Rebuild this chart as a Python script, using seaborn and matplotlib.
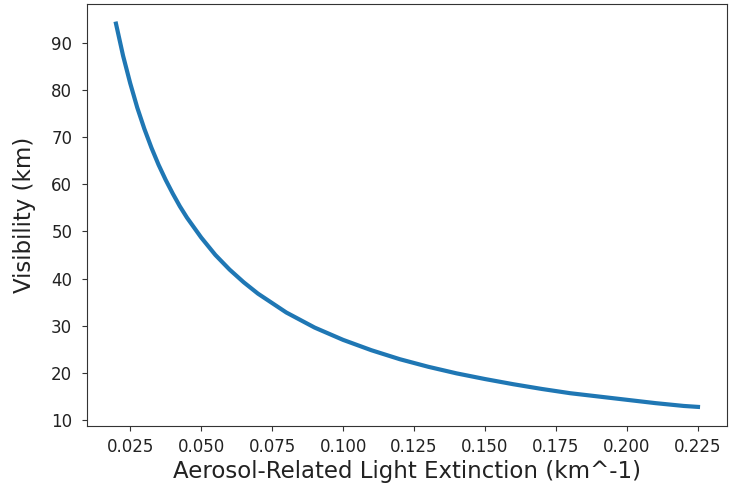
import matplotlib
matplotlib.use('Agg')
import matplotlib.pyplot as plt
import pandas as pd
import seaborn as sns

# values
extinction = [0.020, 0.0225, 0.025, 0.0275, 0.030, 0.0325, 0.035, 0.0375, 0.040, 0.0425,
              0.045, 0.050, 0.055, 0.060, 0.065, 0.070, 0.080, 0.090, 0.100, 0.110,
              0.120, 0.130, 0.140, 0.150, 0.160, 0.170, 0.180, 0.190, 0.200, 0.210,
              0.220, 0.225]
visibility = [94.0, 87.2, 81.4, 76.2, 71.7, 67.7, 64.1, 60.9, 58.0, 55.3,
              52.9, 48.7, 45.0, 41.9, 39.2, 36.8, 32.8, 29.6, 27.0, 24.8,
              22.9, 21.3, 19.9, 18.7, 17.6, 16.6, 15.7, 15.0, 14.3, 13.6,
              13.0, 12.8]

plt_df = pd.DataFrame({'ext': extinction, 'vis': visibility})

fig = plt.figure(figsize=(7.3, 4.96), dpi=100)
ax = fig.add_axes([0.119, 0.141, 0.877, 0.850])
sns.lineplot(x='ext', y='vis', data=plt_df, color='#1f77b4', linewidth=3, ax=ax)
ax.set_xticks([0.025, 0.05, 0.075, 0.1, 0.125, 0.15, 0.175, 0.2, 0.225])
ax.tick_params(labelsize=12, length=3.5, pad=7, color='#333333', labelcolor='#222222')
ax.tick_params(axis='x', pad=5)
for s in ax.spines.values():
    s.set_color('#333333')
ax.set_xlabel('Aerosol-Related Light Extinction (km^-1)', fontsize=16.5, color='#222222', labelpad=3)
ax.set_ylabel('Visibility (km)', fontsize=16.5, color='#222222', labelpad=11)
fig.savefig('out.png', dpi=100)
